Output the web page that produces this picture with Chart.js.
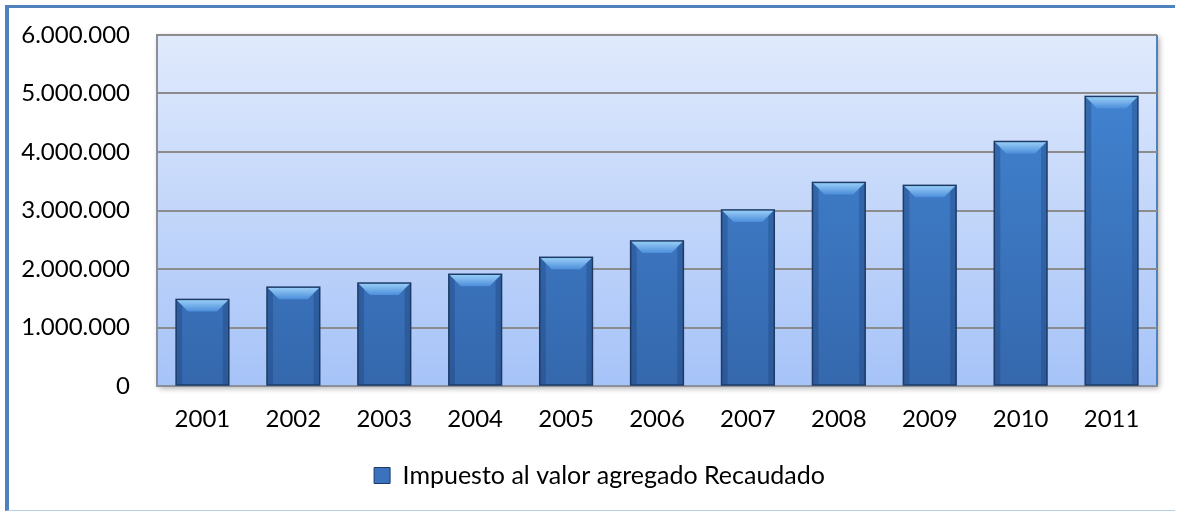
<!DOCTYPE html>
<html>
<head>
<meta charset="utf-8">
<script src="https://cdn.jsdelivr.net/npm/chart.js@4.4.0/dist/chart.umd.min.js"></script>
<style>
  html, body { margin: 0; padding: 0; background: #fff; overflow: hidden; }
  #frame {
    position: absolute; left: 5px; top: 5px; width: 1170px; height: 506px;
    border-left: 4px solid #4f81bd; border-top: 3px solid #4f81bd;
    border-bottom: 1px solid #b9cde5; box-sizing: border-box;
  }
  #wrap { position: absolute; left: 0; top: 0; width: 1180px; height: 513px; }
</style>
</head>
<body>
<div id="frame"></div>
<div id="wrap"><canvas id="myChart" width="1180" height="513"></canvas></div>
<script>
const years = ['2001', '2002', '2003', '2004', '2005', '2006', '2007', '2008', '2009', '2010', '2011'];
const ivaRecaudado = [1480000, 1690000, 1760000, 1910000, 2200000, 2480000, 3010000, 3480000, 3430000, 4180000, 4950000];
const seriesLabel = 'Impuesto al valor agregado Recaudado';

// 6000000 -> "6.000.000"
function fmt(v) {
  return String(v).replace(/\B(?=(\d{3})+(?!\d))/g, '.');
}

// plot area background + frame
const plotBg = {
  id: 'plotBg',
  afterLayout(chart) {
    // legend is centred on the whole box in the original, not on the padded area
    if (chart.legend) {
      chart.legend.left += 16;
      chart.legend.right += 16;
    }
  },
  beforeDraw(chart) {
    const { ctx, chartArea: a } = chart;
    ctx.save();
    ctx.shadowColor = 'rgba(0,0,0,0.35)';
    ctx.shadowBlur = 6;
    ctx.shadowOffsetX = 2;
    ctx.shadowOffsetY = 2;
    const g = ctx.createLinearGradient(0, a.top, 0, a.bottom);
    g.addColorStop(0, '#e0eafc');
    g.addColorStop(1, '#a6c3f8');
    ctx.fillStyle = g;
    ctx.fillRect(a.left, a.top, a.width, a.height);
    ctx.restore();
    ctx.save();
    ctx.lineWidth = 2;
    ctx.strokeStyle = '#8a8f99';
    ctx.beginPath();
    ctx.moveTo(a.left, a.bottom);
    ctx.lineTo(a.left, a.top);
    ctx.lineTo(a.right, a.top);
    ctx.stroke();
    ctx.strokeStyle = '#4f81bd';
    ctx.beginPath();
    ctx.moveTo(a.right, a.top);
    ctx.lineTo(a.right, a.bottom);
    ctx.stroke();
    ctx.restore();
  }
};

// bevel highlight on each bar
const bevel = {
  id: 'bevel',
  afterDatasetsDraw(chart) {
    const { ctx } = chart;
    chart.getDatasetMeta(0).data.forEach(bar => {
      const l = bar.x - bar.width / 2, r = bar.x + bar.width / 2;
      const t = bar.y, b = bar.base, s = 12;
      ctx.save();
      let g = ctx.createLinearGradient(0, t, 0, t + s);
      g.addColorStop(0, '#9ad0f8');
      g.addColorStop(1, '#4d8edb');
      ctx.fillStyle = g;
      ctx.beginPath();
      ctx.moveTo(l, t); ctx.lineTo(r, t); ctx.lineTo(r - s, t + s); ctx.lineTo(l + s, t + s);
      ctx.closePath();
      ctx.fill();
      // side edges darker
      ctx.fillStyle = 'rgba(20,50,100,0.28)';
      ctx.beginPath();
      ctx.moveTo(l, t); ctx.lineTo(l + 6, t + 6); ctx.lineTo(l + 6, b); ctx.lineTo(l, b);
      ctx.closePath(); ctx.fill();
      ctx.beginPath();
      ctx.moveTo(r, t); ctx.lineTo(r - 6, t + 6); ctx.lineTo(r - 6, b); ctx.lineTo(r, b);
      ctx.closePath(); ctx.fill();
      ctx.strokeStyle = '#1d3b66';
      ctx.lineWidth = 1.5;
      ctx.strokeRect(l, t, r - l, b - t);
      ctx.restore();
    });
  }
};

const ctx = document.getElementById('myChart');
new Chart(ctx, {
  type: 'bar',
  data: {
    labels: years,
    datasets: [{
      label: seriesLabel,
      data: ivaRecaudado,
      backgroundColor: (c) => {
        const chart = c.chart;
        const a = chart.chartArea;
        if (!a) return '#3f7cc8';
        const g = chart.ctx.createLinearGradient(0, a.top, 0, a.bottom);
        g.addColorStop(0, '#4387d6');
        g.addColorStop(1, '#3568ad');
        return g;
      },
      borderWidth: 0,
      barPercentage: 0.58,
      categoryPercentage: 1.0
    }]
  },
  options: {
    responsive: false,
    animation: false,
    devicePixelRatio: 1,
    layout: { padding: { left: 10, right: 23, top: 35, bottom: 15 } },
    scales: {
      x: {
        grid: { display: false, drawTicks: false },
        border: { display: true, color: '#8a8f99', width: 2 },
        ticks: { color: '#000', font: { family: 'Lato', size: 24 }, padding: 19, maxRotation: 0 },
        afterFit: (s) => { s.height = 68; }
      },
      y: {
        min: 0,
        max: 6000000,
        grid: { color: '#8c8c8c', lineWidth: 2, drawTicks: false },
        border: { display: false },
        ticks: {
          stepSize: 1000000,
          color: '#000',
          font: { family: 'Lato', size: 24 },
          padding: 27,
          callback: (v) => fmt(v)
        },
        afterFit: (s) => { s.width = 147; s.paddingTop = 0; s.paddingBottom = 0; }
      }
    },
    plugins: {
      legend: {
        position: 'bottom',
        labels: {
          color: '#000',
          font: { family: 'Lato', size: 25 },
          boxWidth: 16,
          boxHeight: 16,
          padding: 9,
          generateLabels: (chart) => [{
            text: seriesLabel,
            fillStyle: '#3a72bd',
            strokeStyle: '#1d3b66',
            lineWidth: 1,
            datasetIndex: 0
          }]
        }
      },
      tooltip: { enabled: false }
    }
  },
  plugins: [plotBg, bevel]
});
</script>
</body>
</html>
